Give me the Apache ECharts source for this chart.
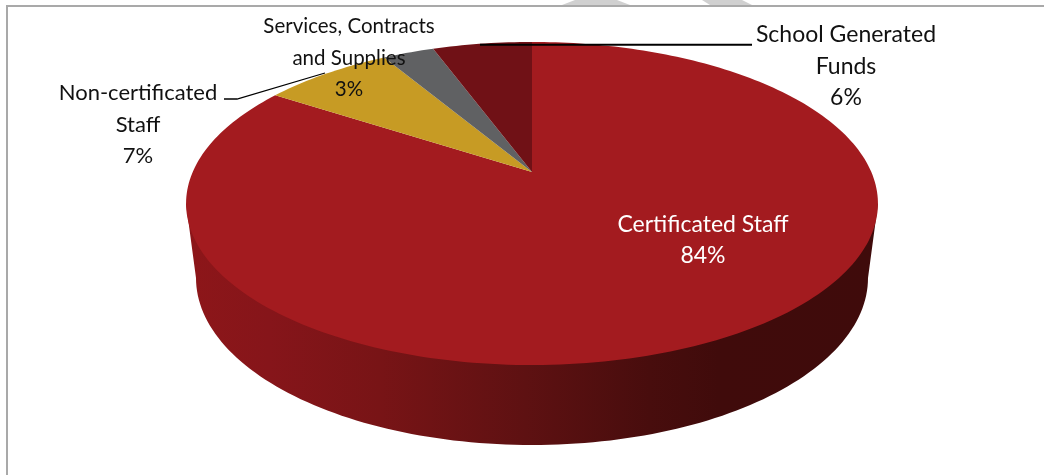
<!DOCTYPE html>
<html>
<head>
<meta charset="utf-8">
<style>html,body{margin:0;padding:0;background:#fff}#c{width:1044px;height:475px}</style>
<script src="https://cdn.jsdelivr.net/npm/echarts@6/dist/echarts.min.js"></script>
</head>
<body>
<div id="c"></div>
<script>
const categories = ['Certificated Staff', 'Non-certificated\nStaff', 'Services, Contracts\nand Supplies', 'School Generated\nFunds'];
const shares = [84.2, 7.3, 2.9, 5.6];
const sliceColors = ['#a31b1f', '#c79b24', '#606163', '#701116'];
const labelColors = ['#ffffff', '#111111', '#111111', '#111111'];
const labelSizes = [23, 22, 20.5, 23];

// Perspective view of the disc
const CX = 532, APEX_Y = 172, PERSP = 0.195, SX = 339.3, SY = 155.4;
const RIM = { x: 346, y: 203.5 };
const BASE = { cy: 278, rx: 336, ry: 167 };
const labelPos = [[703, 240], [138, 124.5], [349, 58], [846, 66.5]];
const leaders = [null, [[224, 99], [237, 99], [325, 73]], null, [[480, 44.7], [752, 44.7]]];
const wallStops = [[0, '#8d1619'], [0.12, '#86151a'], [0.28, '#781416'], [0.49, '#5e1112'], [0.67, '#480d0d'], [0.77, '#400b0b'], [1, '#3f0b0b']];

const total = shares.reduce((a, b) => a + b, 0);
function rimPoint(frac) {
  const t = frac * 2 * Math.PI, x = Math.sin(t), y = Math.cos(t), w = PERSP * y + 1;
  return [CX + SX * x / w, APEX_Y - SY * y / w];
}
function wallPoints() {
  const pts = [[CX - RIM.x, RIM.y]];
  for (let i = 0; i <= 120; i++) {
    const a = Math.PI - Math.PI * i / 120;
    pts.push([CX + BASE.rx * Math.cos(a), BASE.cy + BASE.ry * Math.sin(a)]);
  }
  pts.push([CX + RIM.x, RIM.y]);
  return pts;
}
function renderSlice(params, api) {
  const i = params.dataIndex, v = api.value(0);
  let start = 0;
  for (let k = 0; k < i; k++) start += shares[k];
  const n = Math.max(4, Math.ceil(v * 3));
  const pts = [[CX, APEX_Y]];
  for (let k = 0; k <= n; k++) pts.push(rimPoint((start + v * k / n) / total));
  const children = [];
  if (i === 0) {
    children.push({
      type: 'polygon', shape: { points: wallPoints() },
      style: { fill: new echarts.graphic.LinearGradient(0, 0, 1, 0, wallStops.map(s => ({ offset: s[0], color: s[1] }))) }
    });
  }
  children.push({ type: 'polygon', shape: { points: pts }, style: { fill: sliceColors[i] } });
  if (leaders[i]) {
    children.push({ type: 'polyline', z2: 5, shape: { points: leaders[i] }, style: { fill: null, stroke: '#000', lineWidth: i === 3 ? 2 : 1.3 } });
  }
  children.push({
    type: 'text', z2: 10, x: labelPos[i][0], y: labelPos[i][1],
    style: {
      text: categories[i] + '\n' + Math.round(v) + '%',
      fill: labelColors[i], font: labelSizes[i] + 'px Lato', lineHeight: 31.5,
      textAlign: 'center', textVerticalAlign: 'middle'
    }
  });
  return { type: 'group', children };
}

const chart = echarts.init(document.getElementById('c'), null, { renderer: 'canvas' });
chart.setOption({
  backgroundColor: '#ffffff',
  animation: false,
  graphic: [
    { type: 'polygon', silent: true, shape: { points: [[575, 0], [617, 0], [630, 5], [562, 5]] }, style: { fill: '#d0d0d0' } },
    { type: 'polygon', silent: true, shape: { points: [[702, 0], [742, 0], [752, 5], [710, 5]] }, style: { fill: '#d0d0d0' } },
    { type: 'polyline', silent: true, shape: { points: [[7, 475], [7, 6], [1044, 6]] }, style: { fill: null, stroke: '#a9a9a9', lineWidth: 2 } }
  ],
  series: [{
    type: 'custom',
    coordinateSystem: 'none',
    renderItem: renderSlice,
    data: shares.map((v, i) => ({ name: categories[i], value: [v] })),
    silent: true
  }]
});
</script>
</body>
</html>
